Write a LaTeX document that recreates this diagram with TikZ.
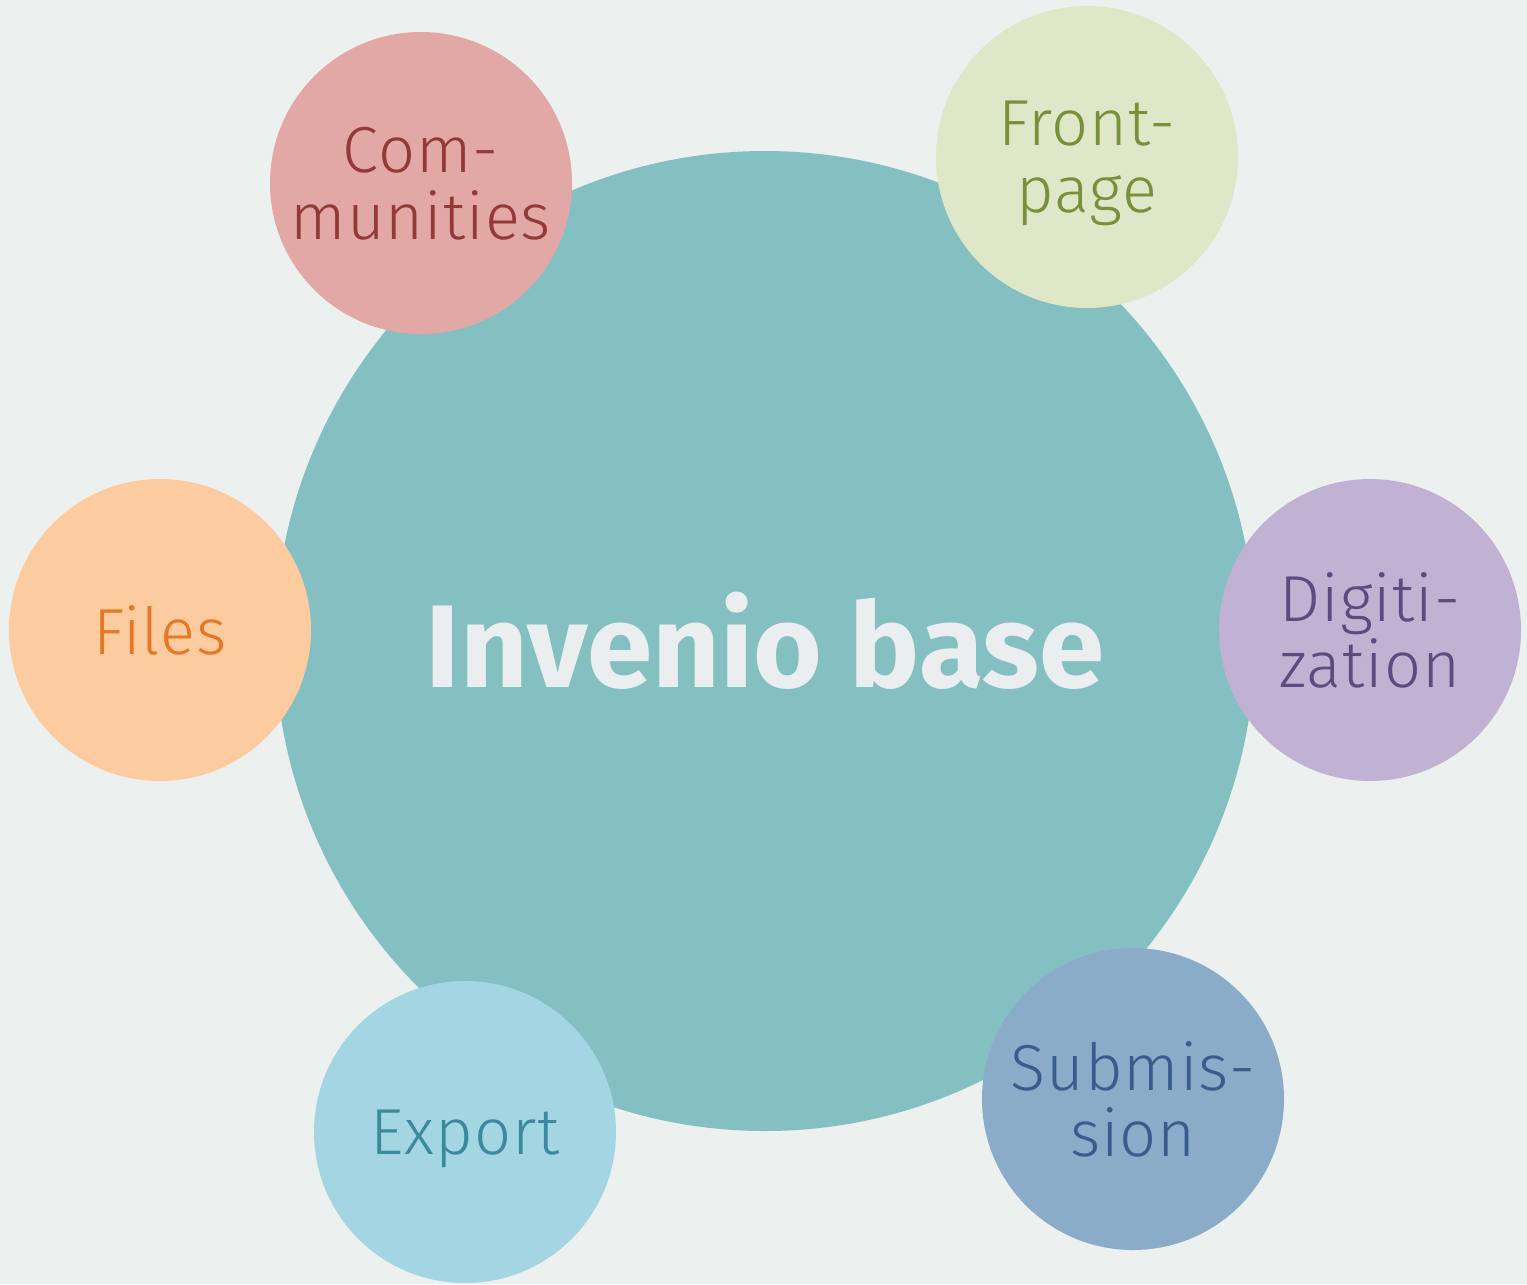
\documentclass[tikz,border=0pt]{standalone}
\usepackage{fontspec}
\setmainfont{Fira Sans}
\newfontfamily\satFont[LetterSpace=1.5]{Fira Sans Light}
\usepackage{xcolor}
\definecolor{pageBg}{HTML}{ECF0EE}
\definecolor{baseFill}{HTML}{84BFC2}
\definecolor{baseText}{HTML}{EAEEEE}
\definecolor{commFill}{HTML}{E2A8A6}
\definecolor{commText}{HTML}{943A36}
\definecolor{frontFill}{HTML}{DEE7C8}
\definecolor{frontText}{HTML}{77903A}
\definecolor{filesFill}{HTML}{FDCBA0}
\definecolor{filesText}{HTML}{E87722}
\definecolor{digiFill}{HTML}{C1B1D3}
\definecolor{digiText}{HTML}{5E4A7E}
\definecolor{exportFill}{HTML}{A3D5E3}
\definecolor{exportText}{HTML}{3A8A9C}
\definecolor{submFill}{HTML}{8AACC8}
\definecolor{submText}{HTML}{3A5C8C}
\usepackage{tikz}
\usetikzlibrary{positioning,calc}
\tikzset{%
  baseCircle/.style={%
    circle,
    fill=baseFill,
    text=baseText,
    minimum size=9.8cm,
    inner sep=0pt,
    font=\bfseries\fontsize{33.5}{33.5}\selectfont,
    align=center
  },
  moduleCircle/.style={%
    circle,
    minimum size=3.02cm,
    inner sep=0pt,
    text depth=0pt,
    font=\satFont\fontsize{18.5}{19}\selectfont,
    align=center
  }
}

\begin{document}
\begin{tikzpicture}
  \fill[pageBg] (0,0) rectangle (15.27,-12.84);
  \useasboundingbox (0,0) rectangle (15.27,-12.84);

  \node[baseCircle] (base) at (7.65,-6.41) {Invenio base};

  \node[moduleCircle, fill=commFill, text=commText] (communities) at (4.21,-1.83) {Com-\\munities};
  \node[moduleCircle, fill=frontFill, text=frontText] (frontpage) at (10.87,-1.57) {Front-\\page};
  \node[moduleCircle, fill=filesFill, text=filesText] (files) at (1.60,-6.30) {Files};
  \node[moduleCircle, fill=digiFill, text=digiText] (digitization) at (13.70,-6.30) {Digiti-\\zation};
  \node[moduleCircle, fill=exportFill, text=exportText] (export) at (4.65,-11.32) {Export};
  \node[moduleCircle, fill=submFill, text=submText] (submission) at (11.33,-10.99) {Submis-\\sion};
\end{tikzpicture}
\end{document}
